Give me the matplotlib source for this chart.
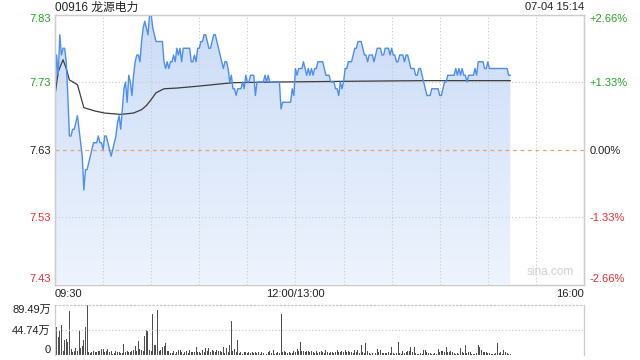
import numpy as np
import matplotlib
matplotlib.use('Agg')
from matplotlib import pyplot as plt
from matplotlib.colors import LinearSegmentedColormap
from matplotlib.patches import PathPatch

plt.rcParams['font.family'] = ['Liberation Sans', 'Noto Sans CJK SC', 'DejaVu Sans']

title = '00916 龙源电力'
stamp = '07-04 15:14'
prev_close = 7.63

# one price per trading minute from 09:30 (minute 0) to 15:14 (minute 284)
prices = [
    7.71, 7.77, 7.74, 7.80, 7.77, 7.78, 7.78, 7.76, 7.71, 7.65,
    7.65, 7.66, 7.66, 7.67, 7.68, 7.66, 7.64, 7.62, 7.57, 7.60,
    7.60, 7.61, 7.62, 7.63, 7.64, 7.64, 7.64, 7.65, 7.64, 7.64,
    7.63, 7.65, 7.65, 7.64, 7.63, 7.62, 7.63, 7.64, 7.65, 7.67,
    7.68, 7.66, 7.69, 7.72, 7.73, 7.70, 7.74, 7.73, 7.71, 7.74,
    7.76, 7.77, 7.77, 7.76, 7.79, 7.81, 7.82, 7.81, 7.80, 7.83,
    7.83, 7.81, 7.80, 7.79, 7.79, 7.79, 7.79, 7.79, 7.76, 7.75,
    7.76, 7.75, 7.76, 7.76, 7.77, 7.76, 7.78, 7.77, 7.78, 7.76,
    7.78, 7.78, 7.78, 7.78, 7.78, 7.76, 7.76, 7.77, 7.76, 7.78,
    7.78, 7.79, 7.79, 7.80, 7.80, 7.79, 7.78, 7.78, 7.79, 7.80,
    7.80, 7.79, 7.78, 7.77, 7.76, 7.75, 7.76, 7.76, 7.75, 7.73,
    7.74, 7.72, 7.72, 7.71, 7.72, 7.72, 7.72, 7.73, 7.72, 7.74,
    7.73, 7.73, 7.74, 7.74, 7.74, 7.71, 7.73, 7.73, 7.73, 7.73,
    7.73, 7.74, 7.73, 7.74, 7.73, 7.73, 7.73, 7.73, 7.73, 7.73,
    7.73, 7.69, 7.70, 7.70, 7.70, 7.70, 7.70, 7.70, 7.72, 7.71,
    7.75, 7.74, 7.75, 7.75, 7.75, 7.76, 7.75, 7.74, 7.75, 7.74,
    7.75, 7.74, 7.75, 7.75, 7.76, 7.76, 7.76, 7.76, 7.75, 7.74,
    7.74, 7.74, 7.73, 7.73, 7.73, 7.72, 7.72, 7.71, 7.73, 7.72,
    7.73, 7.75, 7.75, 7.76, 7.76, 7.76, 7.77, 7.78, 7.78, 7.79,
    7.79, 7.79, 7.78, 7.77, 7.77, 7.76, 7.77, 7.77, 7.77, 7.76,
    7.77, 7.78, 7.78, 7.78, 7.77, 7.77, 7.78, 7.78, 7.78, 7.77,
    7.78, 7.77, 7.77, 7.76, 7.76, 7.77, 7.77, 7.77, 7.76, 7.77,
    7.77, 7.76, 7.75, 7.75, 7.75, 7.74, 7.74, 7.75, 7.75, 7.74,
    7.73, 7.72, 7.71, 7.71, 7.71, 7.72, 7.72, 7.72, 7.72, 7.72,
    7.71, 7.71, 7.72, 7.73, 7.73, 7.74, 7.74, 7.74, 7.74, 7.74,
    7.75, 7.74, 7.75, 7.74, 7.75, 7.74, 7.74, 7.73, 7.74, 7.74,
    7.74, 7.74, 7.75, 7.74, 7.76, 7.76, 7.76, 7.76, 7.75, 7.75,
    7.76, 7.75, 7.75, 7.75, 7.75, 7.75, 7.75, 7.75, 7.75, 7.75,
    7.75, 7.75, 7.75, 7.74, 7.74,
]

# volume per minute, in 万 shares
volumes = [
    39, 51, 32, 45, 53, 8, 27, 29, 23, 79,
    11, 5, 8, 13, 8, 44, 13, 17, 26, 50,
    89.49, 5, 3, 6, 8, 5, 4.8, 6.7, 7.9, 10.9,
    10.9, 4.8, 7.9, 10.9, 4.8, 7.9, 1.8, 3.0, 6.7, 6.0,
    4.8, 3.5, 4.0, 20, 4.8, 7.9, 4.8, 4.8, 6.7, 9.1,
    16.9, 7.9, 24.2, 10.9, 9.1, 7.9, 33.3, 44, 43, 9.1,
    7.9, 73, 18.7, 18.7, 80.4, 7.9, 9.1, 13.9, 16.9, 21.2,
    7.9, 7.9, 3, 3, 7.9, 1.8, 4.8, 9.1, 9.1, 4.8,
    1.8, 4.8, 7.9, 3, 9.1, 4.8, 4.8, 4.8, 15.1, 4.8,
    4.8, 3, 9.1, 4.8, 12.1, 7.9, 12.1, 4.8, 9.1, 7.9,
    4.8, 9.1, 7.9, 7.9, 4.8, 15.1, 3, 12.7, 4.8, 18.7,
    60.5, 7.9, 10.9, 6, 27.2, 3, 4.8, 1.8, 4.8, 4.8,
    3, 4.8, 3, 4.8, 3, 4.8, 3, 4.8, 1.8, 4.8,
    3, 6, 1.8, 4.8, 7.9, 3, 9.1, 1.8, 3, 6,
    3, 73, 4.8, 6.7, 6.0, 3, 4.8, 3, 3.5, 6.7,
    4.8, 10.9, 6.7, 22.4, 6.7, 6.7, 4.8, 6.7, 6.7, 4.8,
    6.7, 4.8, 3, 7.9, 3, 4.8, 7.9, 4.8, 3, 9.1,
    4.8, 3, 4.8, 4.8, 3, 4.8, 9.1, 6, 4.8, 7.9,
    4.8, 9.1, 4.8, 6.7, 6, 4.8, 3, 9.7, 4.8, 9.1,
    3, 18.7, 4.8, 3, 21.2, 7.9, 3, 1.8, 3, 3,
    3, 11.5, 4.8, 9.1, 3, 3, 3, 3, 4.8, 3,
    15.1, 3, 1.8, 3, 22.4, 3, 1.8, 6.7, 3, 6,
    6.7, 7.9, 15.1, 4.8, 15.1, 3, 1.8, 1.8, 3, 1.8,
    9.1, 9.1, 4.8, 3, 3, 1.8, 1.8, 3, 1.8, 10.9,
    4.8, 6.7, 6.7, 4.8, 15.1, 6, 4.8, 7.9, 4.8, 3,
    1.8, 3, 1.8, 13.3, 4.8, 3, 18.7, 3, 4.8, 6,
    1.8, 1.8, 1.8, 3, 18.7, 15.1, 9.1, 4.8, 6, 4.8,
    3, 3, 1.8, 1.8, 1.8, 3, 21.2, 3, 4.8, 1.8,
    9.1, 6, 3, 1.8, 1.8,
]

# average price line, read at its turning points
avg_min = [0, 2, 5, 7, 9, 14, 16, 18, 25, 31, 41, 49, 54, 57, 60, 63, 68, 76, 90, 111, 140, 180, 230, 284]
avg_val = [7.71, 7.745, 7.763, 7.75, 7.733, 7.726, 7.709, 7.692, 7.687, 7.684, 7.682, 7.684, 7.689,
           7.695, 7.704, 7.714, 7.72, 7.721, 7.724, 7.729, 7.73, 7.731, 7.732, 7.732]

price_ticks = [7.43, 7.53, 7.63, 7.73, 7.83]
price_labels = ['7.43', '7.53', '7.63', '7.73', '7.83']
pct_labels = ['-2.66%', '-1.33%', '0.00%', '+1.33%', '+2.66%']
time_ticks = [0, 150, 330]
time_labels = ['09:30', '12:00/13:00', '16:00']
vol_ticks = [0, 44.74, 89.49]
vol_labels = ['0', '44.74万', '89.49万']

minutes = np.arange(len(prices))
green, red, black = '#22a822', '#f02b2b', '#222222'
label_colors = [red, red, black, green, green]
grid_c = '#c9c9c9'

fig = plt.figure(figsize=(6.4, 3.6), dpi=100)
ax = fig.add_axes([55 / 640, 1 - 284.5 / 360, 529 / 640, 270 / 360])
axv = fig.add_axes([55 / 640, 1 - 355 / 360, 529 / 640, 50 / 360])

# gradient fill under the price line
cmap = LinearSegmentedColormap.from_list('fill', ['#eef4fd', '#cbdcf7'])
poly = ax.fill_between(minutes, prices, price_ticks[0], facecolor='none', edgecolor='none')
patch = PathPatch(poly.get_paths()[0], transform=ax.transData, facecolor='none', edgecolor='none')
ax.add_patch(patch)
grad = np.linspace(0, 1, 256).reshape(-1, 1)
img = ax.imshow(grad, extent=[0, 330, price_ticks[0], price_ticks[-1]], origin='lower',
                aspect='auto', cmap=cmap, zorder=1)
img.set_clip_path(patch)

for m in range(30, 330, 30):
    ax.axvline(m, color=grid_c, lw=0.8, ls=(0, (1, 2)), zorder=2)
for p in [7.53, 7.73]:
    ax.axhline(p, color=grid_c, lw=0.8, ls=(0, (1, 2)), zorder=2)
ax.axhline(prev_close, color='#f0a070', lw=0.9, ls=(0, (3, 3)), zorder=2)

ax.plot(minutes, prices, color='#4d8ef0', lw=1.0, zorder=4)
ax.plot(avg_min, avg_val, color='#3c3c3c', lw=0.9, zorder=3)

ax.set_xlim(0, 330)
ax.set_ylim(price_ticks[0], price_ticks[-1])
ax.set_yticks(price_ticks)
ax.set_yticklabels(price_labels, fontsize=8)
ax.set_xticks(time_ticks)
ax.set_xticklabels(time_labels, fontsize=8, color='#222222')
ax.tick_params(length=0, pad=3)
for t, c in zip(ax.get_yticklabels(), label_colors):
    t.set_color(c)
ax.get_yticklabels()[0].set_va('bottom')
ax.get_yticklabels()[-1].set_va('top')
xt = ax.get_xticklabels()
xt[0].set_ha('left')
xt[-1].set_ha('right')

axr = ax.twinx()
axr.set_ylim(ax.get_ylim())
axr.set_yticks(price_ticks)
axr.set_yticklabels(pct_labels, fontsize=8)
axr.tick_params(length=0, pad=4)
for t, c in zip(axr.get_yticklabels(), label_colors):
    t.set_color(c)
axr.get_yticklabels()[0].set_va('bottom')
axr.get_yticklabels()[-1].set_va('top')

for a in (ax, axr):
    for s in a.spines.values():
        s.set_color('#cccccc')
        s.set_linewidth(0.9)

ax.text(0.98, 0.025, 'sina.com', transform=ax.transAxes, ha='right', va='bottom',
        fontsize=8.5, color='#d0d0d0')
fig.text(55 / 640, 1 - 7.5 / 360, title, ha='left', va='center', fontsize=8.5, color='#222222')
fig.text(584 / 640, 1 - 7.5 / 360, stamp, ha='right', va='center', fontsize=8, color='#222222')

# volume panel
axv.bar(minutes, volumes, width=0.62, color='#4f4f4f', linewidth=0)
axv.axhline(vol_ticks[1], color=grid_c, lw=0.8, ls=(0, (1, 2)))
axv.set_xlim(0, 330)
axv.set_ylim(0, vol_ticks[-1])
axv.set_yticks(vol_ticks)
axv.set_yticklabels(vol_labels, fontsize=8, color='#222222')
axv.set_xticks([])
axv.tick_params(length=0, pad=3)
axv.get_yticklabels()[0].set_va('bottom')
axv.get_yticklabels()[-1].set_va('top')
axv.spines['bottom'].set_visible(False)
axv.spines['top'].set_linestyle((0, (1, 2)))
for s in axv.spines.values():
    s.set_color('#cccccc')
    s.set_linewidth(0.9)

fig.savefig('out.png', dpi=100)
